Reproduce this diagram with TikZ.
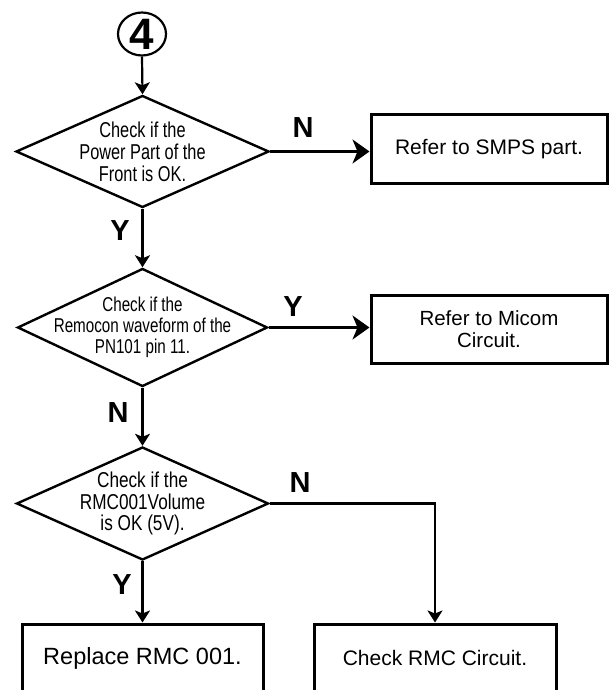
\documentclass[tikz,border=0pt]{standalone}
\usepackage{fontspec}
\setmainfont{Liberation Sans}
\newfontfamily\narrowfont[FakeStretch=0.76]{Liberation Sans}
\newfontfamily\narrowfontb[FakeStretch=0.8]{Liberation Sans}
\usetikzlibrary{shapes.geometric,arrows.meta}
\begin{document}
\begin{tikzpicture}[x=1pt,y=-1pt,
  dec/.style={draw, line width=2.4pt, shape=diamond, inner sep=-30pt, align=center, font=\narrowfont},
  box/.style={draw, line width=3pt, inner sep=0pt, align=center, minimum height=68pt},
  conn/.style={line width=2.2pt},
  harrow/.style={-{Stealth[length=17pt,width=24pt,inset=5pt]}},
  varrow/.style={-{Stealth[length=12pt,width=15pt,inset=3pt]}},
  lbl/.style={font=\fontsize{29}{29}\selectfont\bfseries, inner sep=0pt}
]
\useasboundingbox (0,0) rectangle (609,690);

\node[draw, line width=2.2pt, ellipse, minimum width=48pt, minimum height=43pt, inner sep=0pt,
      font=\fontsize{44}{44}\selectfont\bfseries] (c4) at (142,34) {4};

\node[dec, minimum width=253pt, minimum height=112pt, font=\narrowfont\fontsize{21.5}{22}\selectfont]
  (d1) at (142.5,151.5) {Check if the\\Power Part of the\\Front is OK.};
\node[box, minimum width=236pt, font=\fontsize{21}{23}\selectfont] (b1) at (489,149) {Refer to SMPS part.};

\node[dec, minimum width=250pt, minimum height=111pt, font=\narrowfont\fontsize{20}{21}\selectfont]
  (d2) at (142.5,327.5) {Check if the\\Remocon waveform of the\\PN101 pin 11.};
\node[box, minimum width=236pt, font=\fontsize{20.5}{22}\selectfont] (b2) at (489,329) {Refer to Micom\\Circuit.};

\node[dec, minimum width=252pt, minimum height=113pt, font=\narrowfontb\fontsize{21.5}{21.5}\selectfont]
  (d3) at (142.5,503.5) {Check if the\\RMC001Volume\\is OK (5V).};

\node[box, minimum width=241pt, font=\fontsize{23.5}{25}\selectfont] (b3) at (142.5,658) {Replace RMC 001.};
\node[box, minimum width=242pt, font=\fontsize{21}{23}\selectfont] (b4) at (435,658) {Check RMC Circuit.};

\draw[conn,varrow] (c4.south) -- (d1.north);
\draw[conn,harrow] (d1.east) -- (d1.east -| b1.west);
\draw[conn,varrow] (d1.south) -- (d2.north);
\draw[conn,harrow] (d2.east) -- (d2.east -| b2.west);
\draw[conn,varrow] (d2.south) -- (d3.north);
\draw[conn,varrow] (d3.south) -- (b3.north);
\draw[conn,varrow] (d3.east) -| (b4.north);

\node[lbl] (ln1) at (303,128) {N};
\node[lbl] (ly1) at (120,231) {Y};
\node[lbl] (ly2) at (293,307) {Y};
\node[lbl] (ln2) at (118,413) {N};
\node[lbl] (ln3) at (300,483) {N};
\node[lbl] (ly3) at (122,585) {Y};
\end{tikzpicture}
\end{document}
